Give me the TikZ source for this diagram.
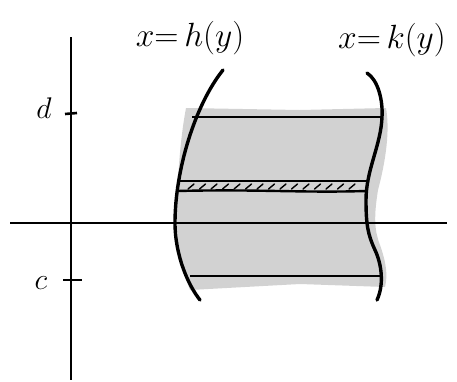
\documentclass[tikz,border=0pt]{standalone}
\begin{document}
\begin{tikzpicture}[x=1pt,y=-1pt,
  axis/.style={line width=2.6pt,black},
  curve/.style={line width=3.4pt,black,line cap=round},
  bound/.style={line width=2.4pt,black},
  hatch/.style={line width=1.4pt,black,line cap=round},
  lbl/.style={font=\fontsize{24}{26}\selectfont}]
\useasboundingbox (0,0) rectangle (457,381);
% shaded region
\fill[gray!35] (186,108) -- (300,110) -- (386,108) .. controls (390,130) and (386,160) .. (378,190)
  .. controls (374,215) and (374,230) .. (380,245) .. controls (386,262) and (388,275) .. (385,287)
  -- (300,284) -- (190,290)
  .. controls (180,265) and (177,240) .. (177,223) .. controls (177,180) and (180,140) .. (186,108) -- cycle;
% axes
\coordinate (ya) at (71,37); \coordinate (yb) at (71,380);
\coordinate (xa) at (10,223); \coordinate (xb) at (447,223);
\draw[axis] (ya) -- (yb);
\draw[axis] (xa) -- (xb);
% ticks
\coordinate (dt1) at (65,114); \coordinate (dt2) at (77,113);
\coordinate (ct1) at (63,280); \coordinate (ct2) at (82,280);
\draw[axis] (dt1) -- (dt2);
\draw[axis] (ct1) -- (ct2);
\node[lbl] (d) at (44,108) {\scalebox{1.2}{$d$}};
\node[lbl] (c) at (41,283) {\scalebox{1.2}{$c$}};
% left curve
\draw[curve] (223,70) .. controls (195,105) and (175,170) .. (175,223)
  .. controls (175,255) and (188,285) .. (200,300);
% right curve
\draw[curve] (367,73) .. controls (378,80) and (383,100) .. (382,117)
  .. controls (381,145) and (366,170) .. (366,200)
  .. controls (366,225) and (368,235) .. (375,250)
  .. controls (382,265) and (384,285) .. (377,300);
% horizontal bounds
\coordinate (t1) at (192,117); \coordinate (t2) at (382,117);
\coordinate (b1) at (190,276); \coordinate (b2) at (383,276);
\draw[bound] (t1) -- (t2);
\draw[bound] (b1) -- (b2);
% strip
\coordinate (s1) at (177,181); \coordinate (s2) at (367,181);
\coordinate (s3) at (177,191); \coordinate (s4) at (366,191);
\draw[bound] (s1) -- (s2);
\draw[bound] (s3) .. controls (260,189) and (300,193) .. (s4);
\foreach \i in {0,...,14} {
  \draw[hatch] ({188+\i*11.5},189) -- ({194+\i*11.5},184);
}
% labels
\node[lbl] (hl) at (190,38) {\scalebox{1.35}{$x{=}\,h(y)$}};
\node[lbl] (kl) at (392,40) {\scalebox{1.35}{$x{=}\,k(y)$}};
\end{tikzpicture}
\end{document}
